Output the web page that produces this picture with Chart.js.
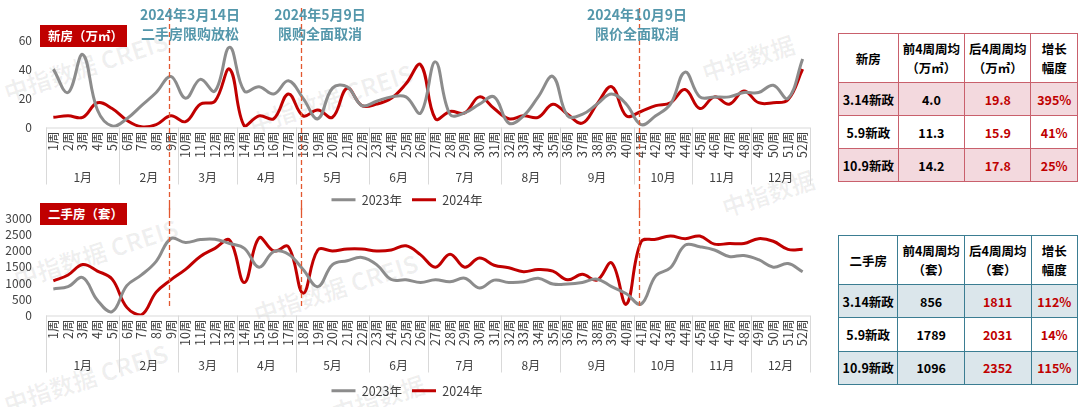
<!DOCTYPE html>
<html>
<head>
<meta charset="utf-8">
<script src="https://cdn.jsdelivr.net/npm/chart.js@4.4.1/dist/chart.umd.min.js"></script>
<style>
  body { margin: 0; background: #fff; font-family: "Noto Sans CJK SC", sans-serif; }
  #wrap { position: relative; width: 1080px; height: 407px; overflow: hidden; }
  .cv { position: absolute; left: 0; }
  .note { position: absolute; color: #5497ab; font-weight: bold; font-size: 14px; line-height: 19px; text-align: center; width: 160px; }
  .tag { position: absolute; left: 40px; width: 87px; height: 22px; background: #c00000; color: #fff;
         font-size: 12.5px; font-weight: bold; line-height: 22px; padding-left: 8px; box-sizing: border-box; }
  table { position: absolute; left: 838px; width: 240px; border-collapse: collapse; font-size: 12.5px; font-weight: bold; }
  td { text-align: center; padding: 0; }
  .t1 td { border: 1.5px solid #c9606c; }
  .t2 td { border: 1.5px solid #3b7d92; }
  .t1 tr.shade td { background: #f3d9de; }
  .t2 tr.shade td { background: #dbe6eb; }
  td.red { color: #c00000; }
  .wm { position: absolute; color: rgba(0,0,0,0.06); font-weight: bold; font-size: 24px; transform: rotate(-18deg); white-space: nowrap; pointer-events: none; }
</style>
</head>
<body>
<div id="wrap">
  <div class="wm" style="left:0px;top:48px;">中指数据 CREIS</div>
  <div class="wm" style="left:245px;top:80px;">中指数据 CREIS</div>
  <div class="wm" style="left:700px;top:40px;">中指数据</div>
  <div class="wm" style="left:10px;top:235px;">中指数据 CREIS</div>
  <div class="wm" style="left:250px;top:270px;">中指数据 CREIS</div>
  <div class="wm" style="left:720px;top:175px;">中指数据</div>
  <div class="wm" style="left:0px;top:360px;">中指数据 CREIS</div>
  <div class="wm" style="left:330px;top:380px;">中指数据</div>

  <canvas id="c1" class="cv" style="top:0px" width="820" height="216"></canvas>
  <canvas id="c2" class="cv" style="top:205px" width="820" height="202"></canvas>

  <div class="note" style="left:110px;top:5px;">2024年3月14日<br>二手房限购放松</div>
  <div class="note" style="left:240px;top:5px;">2024年5月9日<br>限购全面取消</div>
  <div class="note" style="left:557px;top:5px;">2024年10月9日<br>限价全面取消</div>

  <div class="tag" style="top:25px;">新房（万㎡）</div>
  <div class="tag" style="top:203px;">二手房（套）</div>

  <table class="t1" id="tab1" style="top:33px;height:149px;"></table>
  <table class="t2" id="tab2" style="top:235px;height:150px;"></table>
</div>

<script>
// ---- data ----
const weeks = [];
for (let i = 1; i <= 52; i++) weeks.push(i + '周');
const months = ['1月','2月','3月','4月','5月','6月','7月','8月','9月','10月','11月','12月'];
const monthWeeks = [5, 4, 4, 4, 5, 4, 5, 4, 5, 4, 4, 4];
const policyWeeks = [9, 18, 41];

// 新房 (万㎡)
const newHouse2023 = [40,24,50,12,1,6,15,24,35,20,33,25,55,25,28,23,32,20,6,27,28,15,18,21,21,10,
                      45,9,10,16,21,3,8,21,35,8,9,16,23,16,2,8,16,38,21,21,21,24,24,29,20,47];
const newHouse2024 = [7,8,7,17,13,5,0.5,2,8,4,16,18,40,1,8,6,23,8,12,7,27,15,16,20,30,43,
                      6,11,10,21,13,6,8,7,16,9,3,16,28,8,11,15,17,26,13,21,16,25,17,17,19,40];
// 二手房 (套)
const resale2023 = [820,890,1170,470,120,920,1250,1670,2370,2250,2340,2350,2220,2070,1490,1970,1890,1420,890,1570,1690,1790,1570,1110,1100,1020,
                    1100,1040,1150,850,1090,1020,1040,1150,970,970,1020,1120,890,670,350,1220,1470,2170,2120,2020,1820,1850,1720,1490,1600,1350];
const resale2024 = [1070,1250,1570,1370,1120,250,20,720,1100,1420,1820,2070,2320,1020,2390,1990,2120,690,2020,1990,2050,2050,1990,2020,2150,1870,
                    1490,1890,1490,1770,1550,1470,1350,1420,1370,1100,1270,1090,1620,350,2270,2350,2450,2370,2450,2200,2220,2220,2370,2290,2040,2040];

const tableHead1 = ['新房', '前4周周均<br>（万㎡）', '后4周周均<br>（万㎡）', '增长<br>幅度'];
const tableHead2 = ['二手房', '前4周周均<br>（套）', '后4周周均<br>（套）', '增长<br>幅度'];
const policyNames = ['3.14新政', '5.9新政', '10.9新政'];
const newBefore = ['4.0', '11.3', '14.2'];
const newAfter = ['19.8', '15.9', '17.8'];
const newGrowth = ['395%', '41%', '25%'];
const resaleBefore = ['856', '1789', '1096'];
const resaleAfter = ['1811', '2031', '2352'];
const resaleGrowth = ['112%', '14%', '115%'];

// ---- tables ----
function buildTable(id, head, before, after, growth) {
  let html = '<tr style="height:49px">' + head.map((h, i) =>
    '<td style="width:' + [60,67,67,46][i] + 'px">' + h + '</td>').join('') + '</tr>';
  policyNames.forEach((p, i) => {
    html += '<tr class="' + (i !== 1 ? 'shade' : '') + '"><td>' + p + '</td><td>' + before[i] +
            '</td><td class="red">' + after[i] + '</td><td class="red">' + growth[i] + '</td></tr>';
  });
  document.getElementById(id).innerHTML = html;
}
buildTable('tab1', tableHead1, newBefore, newAfter, newGrowth);
buildTable('tab2', tableHead2, resaleBefore, resaleAfter, resaleGrowth);

// ---- charts ----
const FONT = '"Noto Sans CJK SC", sans-serif';

function weekAxisPlugin(lineTop, lineBottomOffset) {
  return {
    id: 'weekAxis',
    afterDraw(chart) {
      const ctx = chart.ctx, x = chart.scales.x, area = chart.chartArea;
      const y0 = area.bottom;
      ctx.save();
      ctx.strokeStyle = '#d9d9d9';
      ctx.lineWidth = 1;
      ctx.beginPath();
      ctx.moveTo(area.left, y0 + 0.5);
      ctx.lineTo(area.right, y0 + 0.5);
      ctx.stroke();

      // week labels, read bottom to top
      ctx.font = '12.5px ' + FONT;
      ctx.fillStyle = '#404040';
      ctx.textAlign = 'right';
      ctx.textBaseline = 'middle';
      weeks.forEach((w, i) => {
        ctx.save();
        ctx.translate(x.getPixelForValue(i), y0 + 4);
        ctx.rotate(-Math.PI / 2);
        ctx.fillText(w, 0, 0);
        ctx.restore();
      });

      const edge = i => i <= 0 ? area.left : i >= weeks.length ? area.right
        : (x.getPixelForValue(i - 1) + x.getPixelForValue(i)) / 2;
      ctx.font = '12px ' + FONT;
      ctx.textAlign = 'center';
      let start = 0;
      monthWeeks.forEach((n, k) => {
        const l = edge(start), r = edge(start + n);
        ctx.beginPath();
        ctx.moveTo(Math.round(l) + 0.5, y0);
        ctx.lineTo(Math.round(l) + 0.5, y0 + 57);
        ctx.stroke();
        ctx.fillText(months[k], (l + r) / 2, y0 + 50);
        start += n;
      });
      ctx.beginPath();
      ctx.moveTo(Math.round(area.right) + 0.5, y0);
      ctx.lineTo(Math.round(area.right) + 0.5, y0 + 57);
      ctx.stroke();

      // policy dashed lines
      ctx.strokeStyle = '#e2572f';
      ctx.lineWidth = 1.3;
      ctx.setLineDash([5, 3]);
      const bottom = lineBottomOffset == null ? chart.height : y0 - lineBottomOffset;
      policyWeeks.forEach(w => {
        const px = Math.round(x.getPixelForValue(w - 1) - 2) + 0.5;
        ctx.beginPath();
        ctx.moveTo(px, lineTop);
        ctx.lineTo(px, bottom);
        ctx.stroke();
      });
      ctx.restore();
    }
  };
}

function makeChart(id, d2023, d2024, yMax, yStep, padTop, xHeight, lineTop, lineBottomOffset) {
  return new Chart(document.getElementById(id), {
    type: 'line',
    data: {
      labels: weeks,
      datasets: [
        { label: '2023年', data: d2023, borderColor: '#8c8c8c', borderWidth: 3, pointRadius: 0, tension: 0.4 },
        { label: '2024年', data: d2024, borderColor: '#c00000', borderWidth: 3, pointRadius: 0, tension: 0.4 }
      ]
    },
    options: {
      responsive: false,
      animation: false,
      layout: { padding: { top: padTop, left: 4, right: 10, bottom: 0 } },
      plugins: {
        legend: {
          position: 'bottom',
          labels: {
            usePointStyle: true, pointStyle: 'line', pointStyleWidth: 24,
            padding: 10, color: '#404040', font: { family: FONT, size: 12.5 }
          }
        },
        tooltip: { enabled: false }
      },
      scales: {
        x: {
          offset: true,
          grid: { display: false },
          border: { display: false },
          ticks: { display: false },
          afterFit: s => { s.height = xHeight; }
        },
        y: {
          min: 0, max: yMax,
          grid: { display: false },
          border: { display: false },
          ticks: {
            stepSize: yStep, autoSkip: false, color: '#404040',
            font: { family: FONT, size: 12 }, padding: 6,
            callback: v => String(v)
          },
          afterFit: s => { s.width = 42; }
        }
      }
    },
    plugins: [weekAxisPlugin(lineTop, lineBottomOffset)]
  });
}

makeChart('c1', newHouse2023, newHouse2024, 60, 20, 40, 56, 8, null);
makeChart('c2', resale2023, resale2024, 3000, 500, 11, 59, 0, 8);
</script>
</body>
</html>
